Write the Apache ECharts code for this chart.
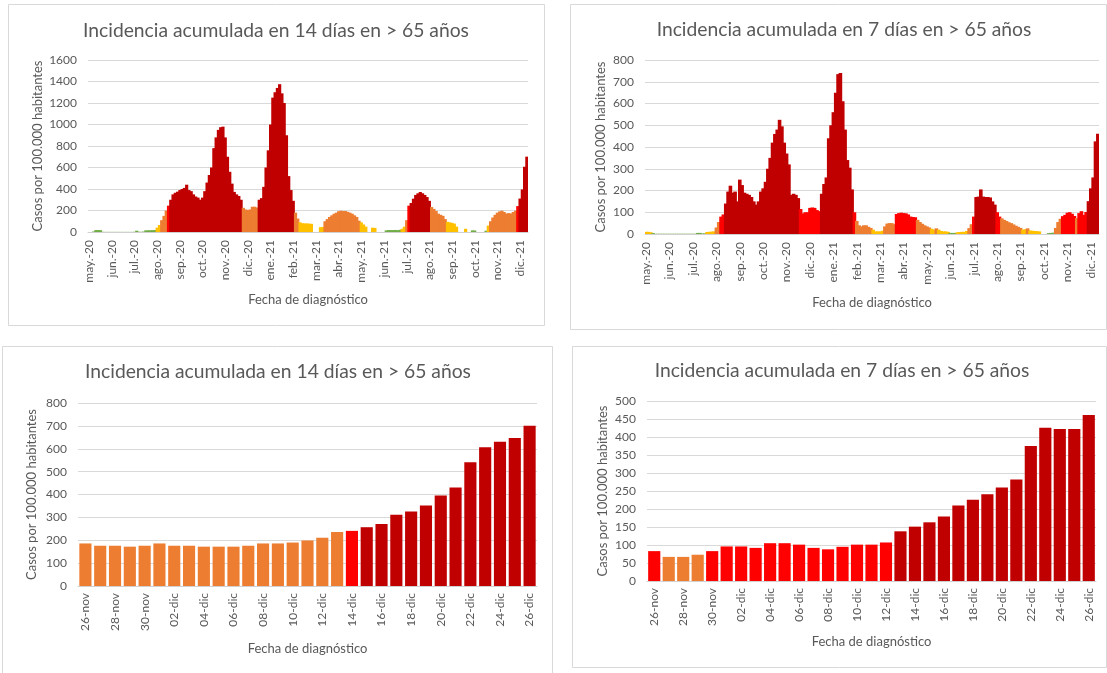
<!DOCTYPE html>
<html><head><meta charset="utf-8">
<script src="https://cdn.jsdelivr.net/npm/echarts@6/dist/echarts.min.js"></script>
<style>html,body{margin:0;padding:0;background:#fff}#c{width:1107px;height:673px}</style>
</head><body><div id="c"></div>
<script>
// ---------- DATA ----------
const chartTitle14 = 'Incidencia acumulada en 14 días en > 65 años';
const chartTitle7 = 'Incidencia acumulada en 7 días en > 65 años';
const yAxisTitle = 'Casos por 100.000 habitantes';
const xAxisTitle = 'Fecha de diagnóstico';

// top charts: one sample every 3 days, from 26 May 2020 to 26 Dec 2021
const topStartDate = [2020, 4, 26];
const topStepDays = 3;
const topTickLabels = ['may.-20','jun.-20','jul.-20','ago.-20','sep.-20','oct.-20','nov.-20','dic.-20',
  'ene.-21','feb.-21','mar.-21','abr.-21','may.-21','jun.-21','jul.-21','ago.-21','sep.-21','oct.-21','nov.-21','dic.-21'];

const ia14Top = [
  0,0,5,18,18,17,2,1,1,1,
  1,1,1,1,1,1,1,1,1,1,
  2,12,2,2,4,15,16,16,17,18,
  40,65,110,150,200,245,300,350,365,375,
  390,400,410,440,390,380,350,330,320,300,
  320,380,460,530,600,780,880,950,975,980,
  880,700,560,450,373,350,335,300,225,210,
  205,210,235,235,228,300,315,420,600,760,
  1000,1250,1300,1340,1375,1290,1200,900,520,390,
  290,180,125,90,82,80,80,78,76,0,
  0,0,45,47,100,120,140,155,170,180,
  193,198,195,195,188,180,170,155,140,105,
  90,70,50,0,0,40,38,0,0,0,
  0,15,18,18,18,19,17,20,30,50,
  110,245,270,310,345,360,372,360,345,325,
  290,232,215,195,170,160,150,120,95,90,
  85,78,50,0,0,0,30,0,0,15,
  14,0,0,0,0,12,60,100,135,160,
  180,192,198,186,172,176,172,186,199,241,
  311,396,607,701
];

const ia7Top = [
  10,10,8,4,1,1,1,1,1,1,
  1,1,1,1,1,1,1,1,1,1,
  1,1,5,5,2,3,9,10,11,12,
  30,55,80,90,140,195,222,190,195,150,
  250,225,190,185,180,170,150,135,150,195,
  210,240,300,350,420,460,480,525,495,420,
  370,320,180,185,180,165,115,95,100,100,
  120,122,120,110,105,185,230,260,440,500,
  560,650,735,740,610,480,340,305,205,100,
  60,40,35,40,40,33,28,20,12,12,
  12,15,35,48,50,50,45,92,96,98,
  96,95,90,80,78,77,65,55,47,40,
  35,30,24,20,26,20,14,12,12,10,
  5,5,5,8,9,10,10,14,27,45,
  80,170,172,205,172,170,170,168,150,135,
  100,80,72,65,60,54,50,44,38,33,
  28,20,22,26,16,15,14,13,12,0,
  0,0,4,5,6,28,55,70,82,88,
  98,100,93,83,73,96,105,88,101,151,
  210,260,426,461
];

// bottom charts: daily, 26 Nov - 26 Dec 2021
const bottomCategories = ['26-nov','27-nov','28-nov','29-nov','30-nov','01-dic','02-dic','03-dic','04-dic','05-dic',
  '06-dic','07-dic','08-dic','09-dic','10-dic','11-dic','12-dic','13-dic','14-dic','15-dic','16-dic','17-dic',
  '18-dic','19-dic','20-dic','21-dic','22-dic','23-dic','24-dic','25-dic','26-dic'];
const ia14Bottom = [186,176,176,172,176,186,176,176,172,172,172,176,186,186,190,199,211,236,241,257,271,311,326,352,396,431,541,607,631,647,701];
const ia7Bottom = [83,67,67,73,83,96,96,92,105,105,101,92,88,95,101,101,107,138,151,163,179,210,226,241,260,282,375,426,422,422,461];

// risk-level thresholds (upper bounds of green, yellow, orange, red)
const thresholds14 = [25, 100, 240, 250];
const thresholds7 = [7, 25, 75, 125];
const levelColors = ['#70AD47','#FFC000','#ED7D31','#FF0000','#C00000'];

// ---------- BUILD ----------
const FONT = 'Lato, "Open Sans", sans-serif';
const TXT = '#595959';

function levelColor(v, th) {
  let i = 0;
  while (i < th.length && v >= th[i]) i++;
  return levelColors[i];
}
function pad(n){ return (n < 10 ? '0' : '') + n; }
const topCategories = ia14Top.map((_, i) => {
  const d = new Date(Date.UTC(topStartDate[0], topStartDate[1], topStartDate[2] + i * topStepDays));
  return d.getUTCFullYear() + '-' + pad(d.getUTCMonth() + 1) + '-' + pad(d.getUTCDate());
});

function barData(vals, th) {
  return vals.map(v => ({ value: v, itemStyle: { color: levelColor(v, th) } }));
}

const grids = [
  { left: 88, top: 60, width: 440, height: 172 },
  { left: 645, top: 60, width: 454, height: 174 },
  { left: 78, top: 403, width: 459, height: 183 },
  { left: 647, top: 401, width: 449, height: 180 }
];

function xAxisTop(gi, nameGap) {
  return {
    type: 'category', gridIndex: gi, data: topCategories, boundaryGap: true,
    name: xAxisTitle, nameLocation: 'middle', nameGap: nameGap,
    nameTextStyle: { color: TXT, fontSize: 13, fontFamily: FONT },
    axisLine: { lineStyle: { color: '#d0d0d0' } },
    axisTick: { interval: (i) => i % 10 === 0, length: 4, lineStyle: { color: '#d0d0d0' } },
    axisLabel: { interval: (i) => i % 10 === 0, rotate: 90, margin: 8, color: TXT, fontSize: 12, fontFamily: FONT,
      formatter: (val, idx) => topTickLabels[Math.round(idx / 10)] }
  };
}
function xAxisBottom(gi, nameGap) {
  return {
    type: 'category', gridIndex: gi, data: bottomCategories, boundaryGap: true,
    name: xAxisTitle, nameLocation: 'middle', nameGap: nameGap,
    nameTextStyle: { color: TXT, fontSize: 13, fontFamily: FONT },
    axisLine: { lineStyle: { color: '#d0d0d0' } },
    axisTick: { interval: 1, length: 4, lineStyle: { color: '#d0d0d0' } },
    axisLabel: { interval: 1, rotate: 90, margin: 7, color: TXT, fontSize: 12, fontFamily: FONT }
  };
}
function yAxis(gi, max, interval, nameGap) {
  return {
    type: 'value', gridIndex: gi, min: 0, max: max, interval: interval,
    name: yAxisTitle, nameLocation: 'middle', nameGap: nameGap, nameRotate: 90,
    nameTextStyle: { color: TXT, fontSize: 13, fontFamily: FONT },
    axisLine: { show: false }, axisTick: { show: false },
    axisLabel: { margin: 11, color: TXT, fontSize: 12, fontFamily: FONT, formatter: (v) => String(v) },
    splitLine: { lineStyle: { color: '#d9d9d9', width: 1 } }
  };
}

function panel(x, y, w, h) {
  return { type: 'rect', shape: { x: x, y: y, width: w, height: h }, style: { fill: 'none', stroke: '#d9d9d9', lineWidth: 1 }, silent: true };
}
function titleText(txt, cx, cy) {
  return { type: 'text', x: cx, y: cy, style: { text: txt, fill: TXT, font: '19.3px ' + FONT, textAlign: 'center', textVerticalAlign: 'middle' }, silent: true };
}

const option = {
  animation: false,
  backgroundColor: '#ffffff',
  graphic: [
    panel(8.5, 4.5, 536, 321),
    panel(570.5, 4.5, 536, 325),
    panel(2.5, 346.5, 550, 340),
    panel(572.5, 346.5, 534, 321),
    titleText(chartTitle14, 276, 31),
    titleText(chartTitle7, 844, 30),
    titleText(chartTitle14, 278, 372),
    titleText(chartTitle7, 842, 371)
  ],
  grid: grids,
  xAxis: [xAxisTop(0, 61), xAxisTop(1, 62), xAxisBottom(2, 56), xAxisBottom(3, 54)],
  yAxis: [yAxis(0, 1600, 200, 44), yAxis(1, 800, 100, 38), yAxis(2, 800, 100, 40), yAxis(3, 500, 50, 38)],
  series: [
    { type: 'bar', xAxisIndex: 0, yAxisIndex: 0, barWidth: 3.2, data: barData(ia14Top, thresholds14) },
    { type: 'bar', xAxisIndex: 1, yAxisIndex: 1, barWidth: 3.6, data: barData(ia7Top, thresholds7) },
    { type: 'bar', xAxisIndex: 2, yAxisIndex: 2, barCategoryGap: '18%', data: barData(ia14Bottom, thresholds14) },
    { type: 'bar', xAxisIndex: 3, yAxisIndex: 3, barCategoryGap: '16%', data: barData(ia7Bottom, thresholds7) }
  ]
};

const chart = echarts.init(document.getElementById('c'), null, { renderer: 'canvas' });
chart.setOption(option);
</script>
</body></html>
